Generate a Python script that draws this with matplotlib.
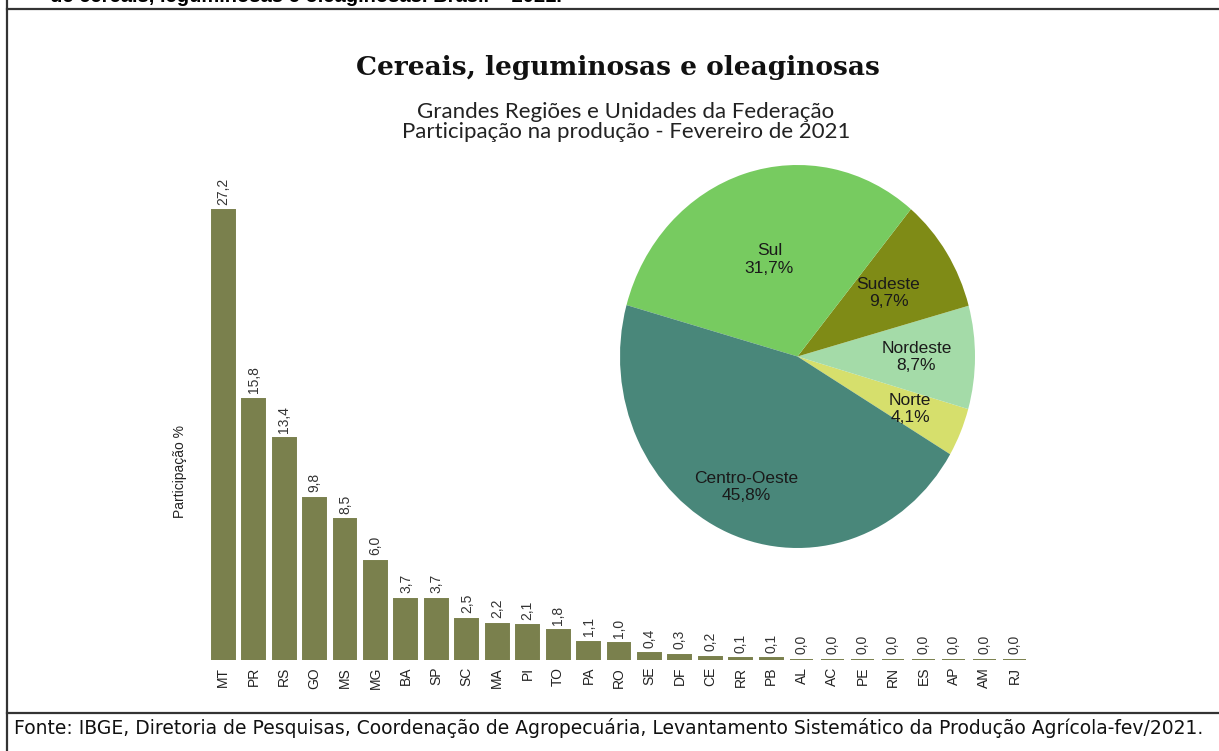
import matplotlib
matplotlib.use("Agg")
import matplotlib.pyplot as plt
from matplotlib.lines import Line2D

# Participação por UF (%), fevereiro de 2021
ufs = ["MT", "PR", "RS", "GO", "MS", "MG", "BA", "SP", "SC", "MA", "PI", "TO", "PA", "RO",
       "SE", "DF", "CE", "RR", "PB", "AL", "AC", "PE", "RN", "ES", "AP", "AM", "RJ"]
part_uf = [27.2, 15.8, 13.4, 9.8, 8.5, 6.0, 3.7, 3.7, 2.5, 2.2, 2.1, 1.8, 1.1, 1.0,
           0.4, 0.3, 0.2, 0.1, 0.1, 0.0, 0.0, 0.0, 0.0, 0.0, 0.0, 0.0, 0.0]

# Participação por Grande Região (%)
regioes = ["Norte", "Nordeste", "Sudeste", "Sul", "Centro-Oeste"]
part_reg = [4.1, 8.7, 9.7, 31.7, 45.8]
cores_reg = ["#d6df6c", "#a4dba8", "#7f8b16", "#77cb60", "#49877a"]
# distância do rótulo ao centro (fração do raio), uma por região
dist_rot = [0.69, 0.67, 0.61, 0.53, 0.74]

BAR_COLOR = "#7a804d"
W, H = 1219, 751


def fx(px):
    return px / W


def fy(py):
    return 1 - py / H


def fig_rect(left, top, right, bottom):
    return [fx(left), fy(bottom), (right - left) / W, (bottom - top) / H]


fig = plt.figure(figsize=(W / 100, H / 100), dpi=100)
fig.patch.set_facecolor("white")

# -------- moldura --------
line_kw = dict(color="#333333", linewidth=1.6, transform=fig.transFigure)
fig.add_artist(Line2D([fx(7), fx(7)], [0, 1], **line_kw))
fig.add_artist(Line2D([fx(7), 1], [fy(9), fy(9)], **line_kw))
fig.add_artist(Line2D([fx(7), 1], [fy(713), fy(713)], **line_kw))

# linha de título cortada no topo
fig.text(fx(50), fy(2.5), "de cereais, leguminosas e oleaginosas. Brasil \u2013 2021.",
         fontsize=14.5, fontweight="bold", family="Liberation Sans", va="baseline")

fig.text(fx(14), fy(728), "Fonte: IBGE, Diretoria de Pesquisas, Coordenação de Agropecuária, "
         "Levantamento Sistemático da Produção Agrícola-fev/2021.",
         fontsize=13.5, family="DejaVu Sans", va="center", color="#111111")

# -------- títulos --------
fig.text(fx(618), fy(68), "Cereais, leguminosas e oleaginosas", fontsize=19,
         family="DejaVu Serif", fontweight="bold", ha="center", va="center", color="#111111")
fig.text(fx(626), fy(122), "Grandes Regiões e Unidades da Federação\n"
         "Participação na produção - Fevereiro de 2021", fontsize=16, family="Lato",
         ha="center", va="center", color="#222222", linespacing=1.0)

# -------- barras por UF --------
ax = fig.add_axes(fig_rect(205, 164, 1033, 660))
x = range(len(ufs))
ax.bar(x, part_uf, width=0.75, color=BAR_COLOR, edgecolor=BAR_COLOR, linewidth=1.4)
for xi, v in zip(x, part_uf):
    ax.annotate(f"{v:.1f}".replace(".", ","), (xi, v), xytext=(0, 4),
                textcoords="offset points", rotation=90, ha="center", va="bottom",
                fontsize=10, family="Liberation Sans", color="#333333")
ax.set_xticks(list(x))
ax.set_xticklabels(ufs, rotation=90, fontsize=10, family="Liberation Sans", color="#222222")
ax.tick_params(length=0, pad=5)
ax.set_yticks([])
ax.set_xlim(-0.6, len(ufs) - 0.4)
ax.set_ylim(0, 30)
for s in ax.spines.values():
    s.set_visible(False)
ax.set_ylabel("Participação %", fontsize=10, family="Liberation Sans", color="#222222")
ax.yaxis.set_label_coords(-0.022, 0.38)

# -------- pizza por região --------
ax2 = fig.add_axes(fig_rect(620, 165, 975, 548))
labels = [f"{r}\n{v:.1f}%".replace(".", ",") for r, v in zip(regioes, part_reg)]
_, textos = ax2.pie(part_reg, labels=labels, colors=cores_reg, startangle=-30.7,
                    counterclock=True, labeldistance=1.0, wedgeprops=dict(linewidth=0),
                    textprops=dict(fontsize=12.5, family="Liberation Sans", color="#1a1a1a"))
for t, d in zip(textos, dist_rot):
    px, py = t.get_position()
    t.set_position((px * d, py * d))
    t.set_ha("center")
    t.set_va("center")
ax2.set_aspect("auto")
ax2.set_xlim(-1, 1)
ax2.set_ylim(-1, 1)

fig.savefig("out.png", dpi=100)
